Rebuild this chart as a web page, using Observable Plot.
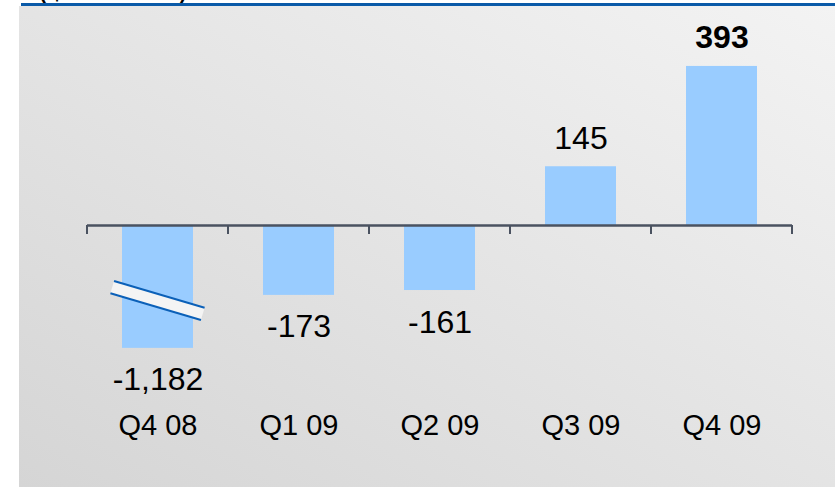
<!DOCTYPE html>
<html><head><meta charset="utf-8">
<script src="https://cdn.jsdelivr.net/npm/d3@7"></script>
<script src="https://cdn.jsdelivr.net/npm/@observablehq/plot@0.6"></script>
<style>
html,body{margin:0;padding:0;background:#fff;}
#wrap{position:relative;width:835px;height:487px;overflow:hidden;font-family:"Liberation Sans",Arial,sans-serif;}
#panel{position:absolute;left:19px;top:6px;right:0;bottom:0;background:linear-gradient(to top right,#d5d5d5,#f3f3f3);}
#rule{position:absolute;left:21px;top:3px;right:0;height:3px;background:#0a5aa8;}
#title{position:absolute;left:38px;top:-27px;font-size:31px;line-height:31px;color:#000;white-space:nowrap;}
#chart{position:absolute;left:0;top:0;}
</style></head>
<body><div id="wrap"><div id="panel"></div><div id="title"></div><div id="rule"></div><div id="chart"></div></div>
<script>
const categories = ["Q4 08", "Q1 09", "Q2 09", "Q3 09", "Q4 09"];
const values = [-1182, -173, -161, 145, 393];
const tickLabels = ["Q4 08", "Q1 09", "Q2 09", "Q3 09", "Q4 09"];
const titleText = "($ millions)";
const breakFloor = -304;   // broken axis: bars below this are cut here
const breakMark = -187;    // value where the break symbol sits
const highlight = "Q4 09"; // bold label
const yDomain = [-648, 556];

document.getElementById("title").textContent = titleText;

const rows = categories.map((q, i) => ({
  q, value: values[i],
  shown: Math.max(values[i], breakFloor),
  broken: values[i] < breakFloor
}));
const fmt = v => v.toLocaleString("en-US");
const font = '"Liberation Sans", Arial, sans-serif';

const plot = Plot.plot({
  width: 835, height: 487,
  marginLeft: 87, marginRight: 43, marginTop: 0, marginBottom: 0,
  style: {background: "transparent", fontFamily: font, color: "#000", overflow: "visible"},
  x: {domain: categories, paddingInner: 0.5, paddingOuter: 0.25, axis: null},
  y: {domain: yDomain, axis: null},
  marks: [
    Plot.barY(rows, {x: "q", y1: 0, y2: "shown", fill: "#99ccff"}),
    Plot.ruleY([0], {stroke: "#4a5260", strokeWidth: 2.5}),
    Plot.text(rows.filter(d => d.value >= 0 && d.q !== highlight), {x: "q", y: "shown", text: d => fmt(d.value), dy: -18, lineAnchor: "bottom", fontSize: 32, fill: "#000"}),
    Plot.text(rows.filter(d => d.value >= 0 && d.q === highlight), {x: "q", y: "shown", text: d => fmt(d.value), dy: -18, lineAnchor: "bottom", fontSize: 32, fontWeight: "bold", fill: "#000"}),
    Plot.text(rows.filter(d => d.value < 0), {x: "q", y: "shown", text: d => fmt(d.value), dy: 42, lineAnchor: "bottom", fontSize: 32, fill: "#000"}),
    Plot.text(tickLabels, {x: (d, i) => categories[i], text: d => d, frameAnchor: "bottom", dy: -53, lineAnchor: "bottom", fontSize: 29, fill: "#000"})
  ]
});
document.getElementById("chart").appendChild(plot);

// ticks at band boundaries and the axis-break symbol, positioned via Plot's scales
const sx = plot.scale("x"), sy = plot.scale("y");
const bw = sx.bandwidth, step = sx.step;
const y0 = sy.apply(0);
const svg = d3.select(plot);
const tg = svg.append("g").attr("stroke", "#4a5260").attr("stroke-width", 2);
const bounds = categories.map(c => sx.apply(c) - (step - bw) / 2);
bounds.push(sx.apply(categories[categories.length - 1]) + bw + (step - bw) / 2);
bounds.forEach(b => tg.append("line").attr("x1", b).attr("x2", b).attr("y1", y0).attr("y2", y0 + 9));

rows.filter(d => d.broken).forEach(d => {
  const cx = sx.apply(d.q) + bw / 2, cy = sy.apply(breakMark);
  const L = bw * 1.33, T = 12.8;
  const g = svg.append("g").attr("transform", `translate(${cx},${cy}) rotate(16.5)`);
  g.append("rect").attr("x", -L / 2).attr("y", -T / 2).attr("width", L).attr("height", T).attr("fill", "#f4f4f4");
  g.append("line").attr("x1", -L / 2).attr("x2", L / 2).attr("y1", -T / 2).attr("y2", -T / 2).attr("stroke", "#0b60b8").attr("stroke-width", 2);
  g.append("line").attr("x1", -L / 2).attr("x2", L / 2).attr("y1", T / 2).attr("y2", T / 2).attr("stroke", "#0b60b8").attr("stroke-width", 2);
});
</script>
</body></html>
